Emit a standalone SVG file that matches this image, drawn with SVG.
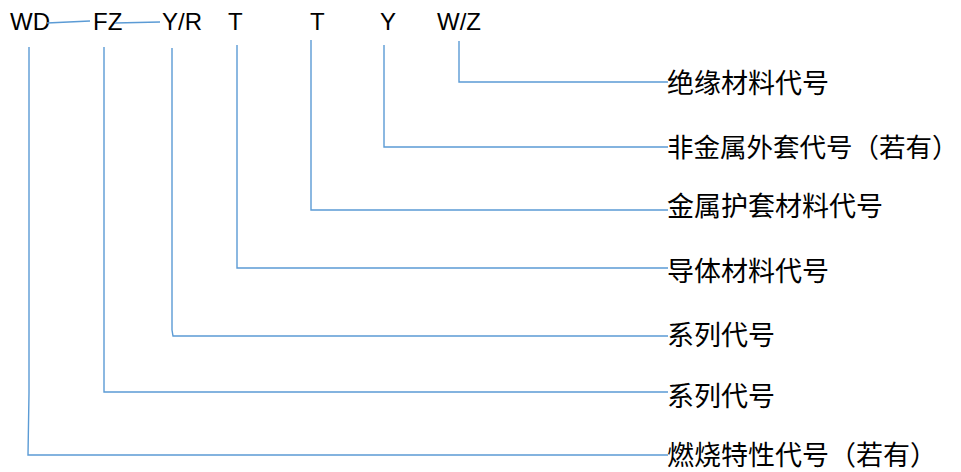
<svg xmlns="http://www.w3.org/2000/svg" width="961" height="472" viewBox="0 0 961 472">
<style>
.code{font-family:"Liberation Sans","Noto Sans",sans-serif;font-size:24px;fill:#000}
.lbl{font-family:"Noto Sans CJK SC","Noto Sans",sans-serif;font-size:27px;fill:#000}
.lbl2{font-size:26.5px}
.ln{fill:none;stroke:#5b9bd5;stroke-width:1.4}
</style>
<rect width="961" height="472" fill="#fff"/>
<g id="codes">
<g id="c-wd"><text class="code" x="10" y="30">WD</text></g>
<g id="c-fz"><text class="code" x="93" y="30">FZ</text></g>
<g id="c-yr"><text class="code" x="162" y="30">Y/R</text></g>
<g id="c-t1"><text class="code" x="228" y="30">T</text></g>
<g id="c-t2"><text class="code" x="310" y="30">T</text></g>
<g id="c-y"><text class="code" x="380" y="30">Y</text></g>
<g id="c-wz"><text class="code" x="437" y="30">W/Z</text></g>
</g>
<g id="labels">
<g id="l1"><text class="lbl" x="667" y="93">绝缘材料代号</text></g>
<g id="l2"><text class="lbl lbl2" x="667" y="157">非金属外套代号（若有）</text></g>
<g id="l3"><text class="lbl" x="667" y="216">金属护套材料代号</text></g>
<g id="l4"><text class="lbl" x="667" y="281">导体材料代号</text></g>
<g id="l5"><text class="lbl" x="667" y="345">系列代号</text></g>
<g id="l6"><text class="lbl" x="667" y="406">系列代号</text></g>
<g id="l7"><text class="lbl" x="667" y="465">燃烧特性代号（若有）</text></g>
</g>
<g id="connectors">
<path class="ln" d="M47,23 L90,21"/>
<path class="ln" d="M115,23 L160,22"/>
<path class="ln" d="M459,41 V82 H668"/>
<path class="ln" d="M384,45 V147 H668"/>
<path class="ln" d="M311,40 V210 H668"/>
<path class="ln" d="M237,45 V268 H668"/>
<path class="ln" d="M172,48 V330 L173,336 H668"/>
<path class="ln" d="M104,47 V392 H668"/>
<path class="ln" d="M29,47 V393 L28,455 H668"/>
</g>
</svg>
